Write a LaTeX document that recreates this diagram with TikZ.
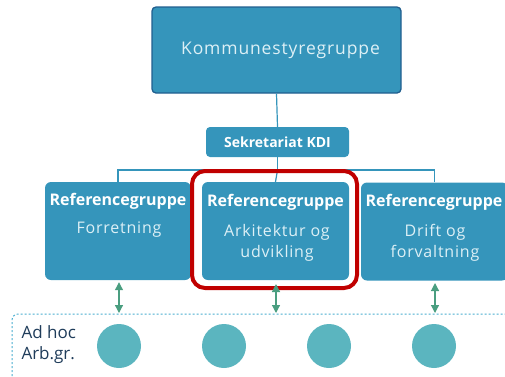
\documentclass[tikz,border=0pt]{standalone}
\usepackage{fontspec}
\setmainfont{Open Sans}
\newfontfamily\spacedfont[LetterSpace=5]{Open Sans}
\usetikzlibrary{arrows.meta}
\definecolor{boxblue}{HTML}{3595BB}
\definecolor{borderblue}{HTML}{215F8F}
\definecolor{lighttext}{HTML}{DDF0F6}
\definecolor{arrowgreen}{HTML}{4A9E80}
\definecolor{circteal}{HTML}{5BB5BF}
\definecolor{dashblue}{HTML}{4AAED0}
\definecolor{darkred}{HTML}{C00000}
\definecolor{labelblue}{HTML}{1F3C5A}
\tikzset{
  x=1pt, y=-1pt,
  bluebox/.style={fill=boxblue, rounded corners=6pt, inner sep=0pt},
  conn/.style={draw=boxblue, line width=1.2pt},
  dblarrow/.style={draw=arrowgreen, line width=1.2pt, {Triangle[length=8pt,width=8pt]}-{Triangle[length=8pt,width=8pt]}},
  circ/.style={circle, fill=circteal, minimum size=44pt, inner sep=0pt},
}
\begin{document}
\begin{tikzpicture}
\useasboundingbox (0,0) rectangle (505,376);
% dashed group
\draw[dashblue, line width=1pt, dash pattern=on 2pt off 2pt, rounded corners=6pt] (12,380) -- (12,314) -- (510,314);
% top box
\node[bluebox, rounded corners=4pt, draw=borderblue, line width=1.3pt, minimum width=249pt, minimum height=86pt] (top) at (276.5,50) {};
\node[text=lighttext, font=\spacedfont\fontsize{17.5}{20}\selectfont] (toptxt) at ([xshift=4pt]top.center) {Kommunestyregruppe};
% sekretariat
\node[bluebox, rounded corners=4pt, minimum width=143pt, minimum height=30pt, text=white, font=\fontsize{14}{16}\selectfont\bfseries] (sek) at (277.5,142) {Sekretariat KDI};
\draw[conn] (top.south) -- (sek.north);
% reference boxes
\node[bluebox, minimum width=146pt, minimum height=98pt] (left) at (118,231) {};
\node[bluebox, minimum width=147pt, minimum height=98pt] (mid) at (275.5,231) {};
\node[bluebox, minimum width=147pt, minimum height=98pt] (right) at (434.5,231.5) {};
\coordinate (bus) at (277.5,170);
\draw[conn] (sek.south) -- (bus);
\draw[conn] (left.north) -- (left.north |- bus) -- (right.north |- bus) -- (right.north);
\draw[conn] (bus) -- (mid.north);
% texts
\tikzset{rtitle/.style={text=white, font=\fontsize{16}{18}\selectfont\bfseries},
         rsub/.style={text=lighttext, align=center, font=\spacedfont\fontsize{16}{21.5}\selectfont}}
\node[rtitle] (lt) at (118,201) {Referencegruppe};
\node[rtitle] (mt) at (275.5,202) {Referencegruppe};
\node[rtitle] (rt) at (434,202) {Referencegruppe};
\node[rsub] (ls) at (119,230) {Forretning};
\node[rsub] (ms) at (277,243) {Arkitektur og\\udvikling};
\node[rsub] (rs) at (435,243) {Drift og\\forvaltning};
% red highlight
\draw[darkred, line width=4pt, rounded corners=13pt] (192,171) rectangle (357,288);
% circles
\node[circ] (c1) at (119,346) {};
\node[circ] (c2) at (224,346) {};
\node[circ] (c3) at (329,346) {};
\node[circ] (c4) at (434,346) {};
\coordinate (a1) at (119,313);
\coordinate (a2) at (276,313);
\coordinate (a3) at (435,313);
\draw[dblarrow] (left.south -| a1) ++(0,2) -- (a1);
\draw[dblarrow] (276,284) -- (a2);
\draw[dblarrow] (435,283) -- (a3);
% label
\node[text=labelblue, align=left, anchor=west, font=\fontsize{17}{21}\selectfont] (adhoc) at (18,345) {Ad hoc\\Arb.gr.};
\end{tikzpicture}
\end{document}
